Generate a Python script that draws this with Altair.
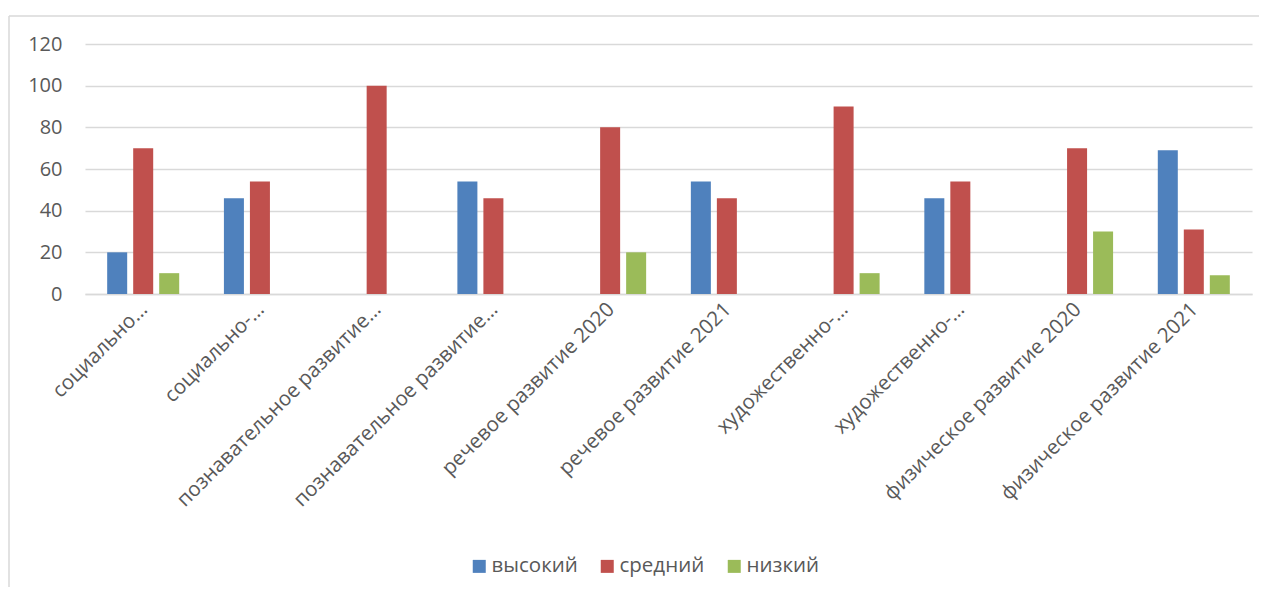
import json
import altair as alt
import pandas as pd

# category labels as shown on the axis (Excel-truncated)
categories = [
    "социально…",
    "социально-…",
    "познавательное развитие…",
    "познавательное развитие…",
    "речевое развитие 2020",
    "речевое развитие 2021",
    "художественно-…",
    "художественно-…",
    "физическое развитие 2020",
    "физическое развитие 2021",
]
series = ["высокий", "средний", "низкий"]
high = [20, 46, 0, 54, 0, 54, 0, 46, 0, 69]
mid = [70, 54, 100, 46, 80, 46, 90, 54, 70, 31]
low = [10, 0, 0, 0, 20, 0, 10, 0, 30, 9]
colors = ["#4F81BD", "#C0504D", "#9BBB59"]
y_ticks = [0, 20, 40, 60, 80, 100, 120]

rows = []
for i in range(len(categories)):
    for s, vals in zip(series, [high, mid, low]):
        rows.append({"idx": i, "level": s, "value": vals[i]})
df = pd.DataFrame(rows)

FONT = "Open Sans"
GREY = "#595959"
LINE = "#D9D9D9"

label_expr = json.dumps(categories, ensure_ascii=False) + "[datum.value]"

bars = alt.Chart(df).mark_bar().encode(
    x=alt.X(
        "idx:O",
        title=None,
        scale=alt.Scale(paddingInner=0.383, paddingOuter=0.19),
        axis=alt.Axis(
            labelAngle=-45,
            labelExpr=label_expr,
            labelFont=FONT,
            labelFontSize=20.5,
            labelColor=GREY,
            labelPadding=5,
            labelOffset=-6,
            labelLimit=500,
            ticks=False,
            domainColor=LINE,
            domainWidth=1.5,
            grid=False,
            labelOverlap=False,
        ),
    ),
    xOffset=alt.XOffset(
        "level:N",
        sort=series,
        scale=alt.Scale(paddingInner=0.2308, paddingOuter=0),
    ),
    y=alt.Y(
        "value:Q",
        title=None,
        scale=alt.Scale(domain=[0, 120], nice=False),
        axis=alt.Axis(
            values=y_ticks,
            labelFont=FONT,
            labelFontSize=20,
            labelColor=GREY,
            labelPadding=23,
            ticks=False,
            domain=False,
            gridColor=LINE,
            gridWidth=1.5,
        ),
    ),
    color=alt.Color(
        "level:N",
        sort=series,
        scale=alt.Scale(domain=series, range=colors),
        legend=alt.Legend(
            title=None,
            orient="none",
            direction="horizontal",
            legendX=384,
            legendY=512,
            symbolType="square",
            symbolSize=169,
            symbolStrokeWidth=0,
            labelFont=FONT,
            labelFontSize=20.5,
            labelColor=GREY,
            labelOffset=2,
            labelLimit=300,
            columnPadding=19,
            padding=0,
        ),
    ),
)

frame_df = pd.DataFrame({"k": [0]})
top_line = alt.Chart(frame_df).mark_rule(color=LINE, strokeWidth=1.5).encode(
    x=alt.value(-76), x2=alt.value(1174), y=alt.value(-28)
)
left_line = alt.Chart(frame_df).mark_rule(color=LINE, strokeWidth=1.5).encode(
    x=alt.value(-76), y=alt.value(-28), y2=alt.value(543)
)

chart = (
    alt.layer(top_line, left_line, bars)
    .properties(
        width=1167,
        height=250,
        padding={"left": 0, "top": 7, "right": 0, "bottom": 0},
        background="white",
    )
    .configure_view(stroke=None)
)

chart.save("out.html", embed_options={"renderer": "svg", "actions": False})
